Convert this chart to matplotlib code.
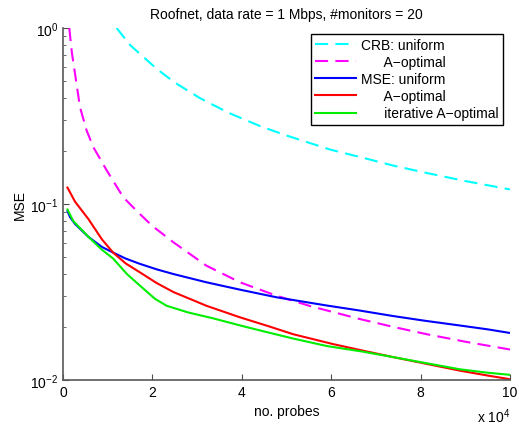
import numpy as np
import matplotlib
matplotlib.use("Agg")
import matplotlib.pyplot as plt

plt.rcParams['font.family'] = ['Liberation Sans', 'DejaVu Sans']
plt.rcParams['mathtext.default'] = 'regular'
plt.rcParams['font.size'] = 10

# no. probes in units of 10^4
crb_uni_x = [1.2, 1.5, 2.1, 2.5, 3.06, 3.7, 4.41, 5.0, 6.0, 6.64, 7.4, 8.14, 9.0, 10.0]
crb_uni_y = [1.0, 0.80, 0.585, 0.49, 0.40, 0.33, 0.277, 0.245, 0.203, 0.185, 0.165, 0.15, 0.135, 0.121]

crb_aopt_x = [0.14, 0.2, 0.27, 0.38, 0.53, 0.68, 0.98, 1.35, 1.72, 2.0, 2.47, 3.21, 3.96, 4.78, 5.53,
              6.64, 7.4, 8.14, 9.0, 10.0]
crb_aopt_y = [1.0, 0.72, 0.548, 0.355, 0.261, 0.21, 0.155, 0.109, 0.0877, 0.075, 0.0606, 0.0446, 0.0359,
              0.0301, 0.0263, 0.0222, 0.020, 0.0182, 0.0165, 0.0149]

mse_uni_x = [0.1, 0.16, 0.27, 0.57, 0.87, 1.12, 1.4, 1.72, 2.1, 2.47, 3.21, 3.96, 4.78, 5.9, 6.6,
             7.38, 8.1, 8.88, 9.5, 10.0]
mse_uni_y = [0.091, 0.084, 0.077, 0.065, 0.057, 0.053, 0.049, 0.0457, 0.0425, 0.040, 0.0359, 0.0326,
             0.0295, 0.0265, 0.0249, 0.0231, 0.0217, 0.0204, 0.0194, 0.0185]

mse_aopt_x = [0.1, 0.27, 0.57, 0.87, 1.12, 1.4, 1.72, 2.1, 2.47, 3.21, 3.96, 4.6, 5.15, 6.04, 6.7, 7.38,
              8.1, 8.88, 9.5, 10.0]
mse_aopt_y = [0.124, 0.103, 0.082, 0.063, 0.053, 0.046, 0.0409, 0.0355, 0.0316, 0.0264, 0.0227, 0.0202,
              0.0182, 0.016, 0.0147, 0.0135, 0.0124, 0.0113, 0.0106, 0.0101]

mse_iter_x = [0.1, 0.23, 0.57, 0.87, 1.12, 1.43, 1.72, 2.06, 2.32, 2.8, 3.36, 4.0, 4.6, 5.15, 5.9, 6.7,
              7.38, 8.1, 8.88, 9.5, 10.0]
mse_iter_y = [0.093, 0.08, 0.065, 0.055, 0.049, 0.04, 0.0344, 0.0289, 0.0264, 0.0242, 0.0224, 0.0203,
              0.0186, 0.0172, 0.0156, 0.0145, 0.0135, 0.0125, 0.0115, 0.011, 0.0107]

labels = ['CRB: uniform', '      A\u2212optimal', 'MSE: uniform', '      A\u2212optimal',
          '      iterative A\u2212optimal']

fig = plt.figure(figsize=(5.19, 4.27), dpi=100)
ax = fig.add_axes([63/519, 1-381/427, 447/519, 352/427])

dash = (6.3, 3.5)
ax.plot(crb_uni_x, crb_uni_y, color='cyan', lw=1.5, dashes=dash, label=labels[0])
ax.plot(crb_aopt_x, crb_aopt_y, color='magenta', lw=1.5, dashes=dash, label=labels[1])
ax.plot(mse_uni_x, mse_uni_y, color='blue', lw=1.5, label=labels[2])
ax.plot(mse_aopt_x, mse_aopt_y, color='red', lw=1.5, label=labels[3])
ax.plot(mse_iter_x, mse_iter_y, color='#00ee00', lw=1.5, label=labels[4])

ax.set_yscale('log')
ax.set_xlim(0, 10)
ax.set_ylim(0.01, 1)
ax.set_xticks([0, 2, 4, 6, 8, 10])
ax.set_xticklabels(['0', '2', '4', '6', '8', '10'])
ax.set_yticks([0.01, 0.1, 1])
ax.set_yticklabels(['$10^{-2}$', '$10^{-1}$', '$10^{0}$'])

for s in ['top', 'right']:
    ax.spines[s].set_visible(False)
for s in ['left', 'bottom']:
    ax.spines[s].set_color('0.35')
    ax.spines[s].set_linewidth(1.2)
ax.tick_params(which='both', direction='in', color='0.3', labelcolor='black')
ax.tick_params(which='major', length=4)
ax.tick_params(which='minor', length=2.5)

ax.set_title('Roofnet, data rate = 1 Mbps, #monitors = 20', fontsize=10, pad=7)
ax.set_xlabel('no. probes', labelpad=4)
ax.set_ylabel('MSE', labelpad=2)
ax.text(1.0, -0.102, 'x 10$^4$', transform=ax.transAxes, ha='right', va='center', fontsize=10)

leg = ax.legend(loc='upper right', bbox_to_anchor=(0.984, 0.983), fancybox=False, framealpha=1,
                edgecolor='black', handlelength=2.9, labelspacing=0.22, borderpad=0.3,
                handletextpad=0.4, borderaxespad=0)
leg.get_frame().set_linewidth(1.0)

fig.savefig('out.png', dpi=100)
